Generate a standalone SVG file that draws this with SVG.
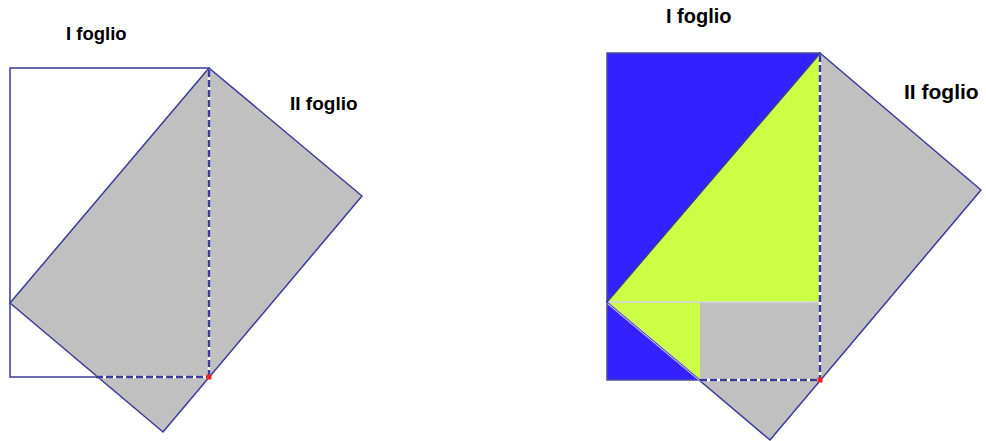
<svg xmlns="http://www.w3.org/2000/svg" width="986" height="441" viewBox="0 0 986 441">
<style>
.edge{fill:none;stroke:#3a3a9a;stroke-width:1.5}
.sheet2{fill:#c0c0c0;stroke:#3a3a9a;stroke-width:1.5;stroke-linejoin:round}
.gap{fill:none;stroke:#ffffff;stroke-width:2.5}
.dash{fill:none;stroke:#3a3a9a;stroke-width:2.5;stroke-dasharray:7,3}
.lbl{font-family:"Liberation Sans",Arial,sans-serif;font-weight:bold;fill:#000}
.dot{fill:#ff2020}
</style>
<rect width="986" height="441" fill="#fff"/>
<g id="left-figure">
  <g id="left-sheet1"><rect class="edge" x="10" y="68" width="199" height="309"/></g>
  <g id="left-sheet2"><polygon class="sheet2" points="209,68 362,196 163,432 10,303"/></g>
  <g id="left-connectors">
    <line class="gap" x1="209" y1="70" x2="209" y2="377"/>
    <line class="gap" x1="96" y1="377" x2="209" y2="377"/>
    <line class="dash" x1="209" y1="70" x2="209" y2="377"/>
    <line class="dash" x1="96" y1="377" x2="209" y2="377"/>
    <rect class="dot" x="206.5" y="374.5" width="5" height="5"/>
  </g>
  <text class="lbl" x="66" y="40" font-size="18.5">I foglio</text>
  <text class="lbl" x="290" y="110" font-size="19">II foglio</text>
</g>
<g id="right-figure">
  <g id="right-sheet1"><rect x="607" y="53" width="213" height="327" fill="#3322ff" stroke="#4a4aa0" stroke-width="1.5"/></g>
  <g id="right-sheet2"><polygon class="sheet2" points="820,53 981,190 770,440 607,302"/></g>
  <g id="right-fills">
    <polygon points="607,302 820,55 820,302" fill="#ccff44"/>
    <polygon points="608,303 700,303 700,380" fill="#ccff44"/>
    <line x1="607" y1="302" x2="820" y2="302" stroke="#d8d8e0" stroke-width="1.5"/>
    <line x1="608" y1="303" x2="700" y2="380" stroke="#c8c8d8" stroke-width="2.5"/>
    <line x1="607" y1="302" x2="700" y2="380" stroke="#3a3a9a" stroke-width="1"/>
    <line x1="607" y1="302" x2="820" y2="53" stroke="#3a3a9a" stroke-width="1.5"/>
  </g>
  <g id="right-connectors">
    <line class="gap" x1="820" y1="55" x2="820" y2="380"/>
    <line class="gap" x1="700" y1="380" x2="820" y2="380"/>
    <line class="dash" x1="820" y1="55" x2="820" y2="380"/>
    <line class="dash" x1="700" y1="380" x2="820" y2="380"/>
    <rect class="dot" x="817.5" y="377.5" width="5" height="5"/>
  </g>
  <text class="lbl" x="666" y="23" font-size="20">I foglio</text>
  <text class="lbl" x="904" y="99" font-size="21">II foglio</text>
</g>
</svg>
